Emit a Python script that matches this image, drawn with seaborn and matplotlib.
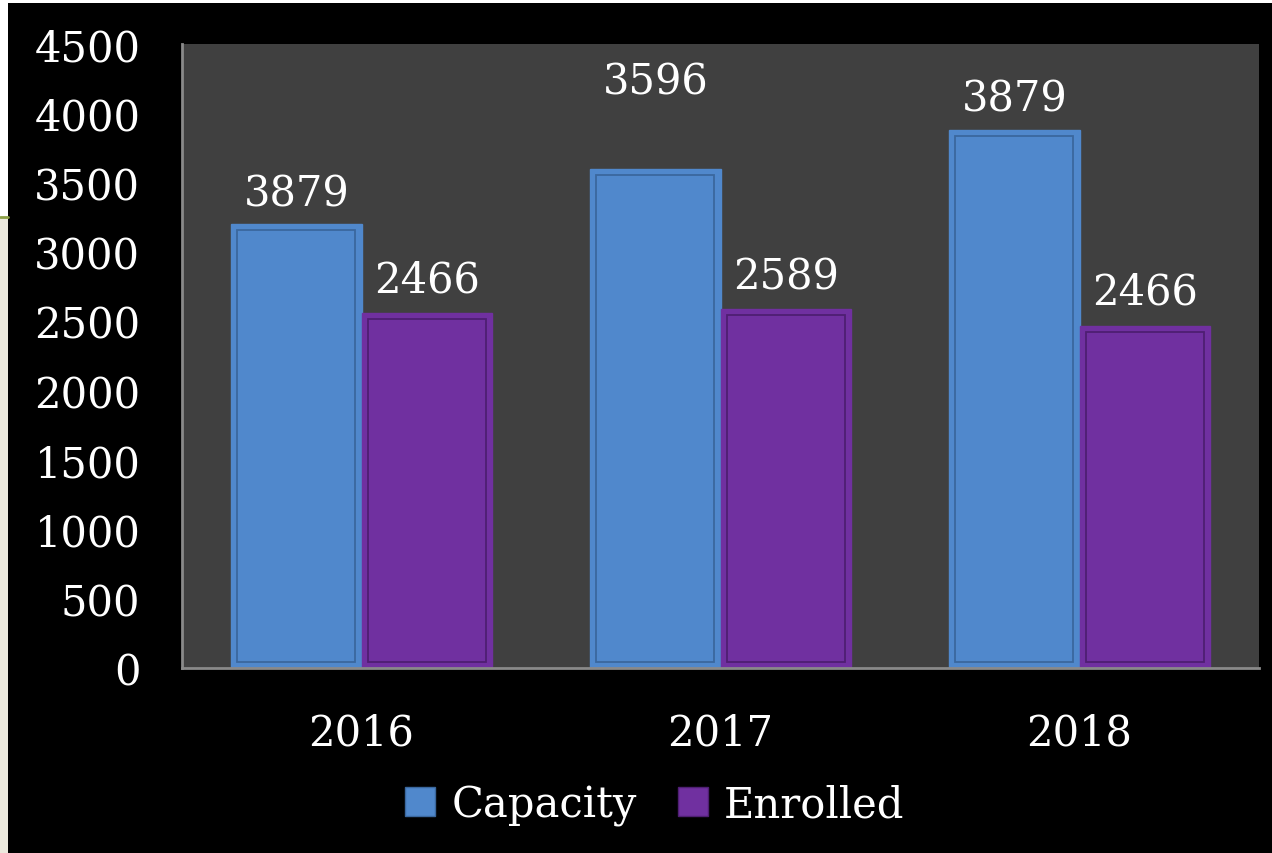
import matplotlib
matplotlib.use("Agg")
import matplotlib.pyplot as plt
from matplotlib.patches import Rectangle
from matplotlib.lines import Line2D
import pandas as pd
import seaborn as sns

# chart data
years = ["2016", "2017", "2018"]
capacity = [3200, 3596, 3879]
enrolled = [2560, 2589, 2466]
# the printed labels do not match the bar heights for 2016 (kept as on the slide)
capacity_labels = ["3879", "3596", "3879"]
enrolled_labels = ["2466", "2589", "2466"]
series = ["Capacity", "Enrolled"]

colors = {"Capacity": "#5088CC", "Enrolled": "#7030A0"}
inner_edges = {"Capacity": "#3A679E", "Enrolled": "#4E1F72"}
label_offsets = {"Capacity": [225, 637, 225], "Enrolled": [240, 233, 248]}

df = pd.DataFrame({
    "year": years * 2,
    "value": capacity + enrolled,
    "series": ["Capacity"] * 3 + ["Enrolled"] * 3,
})

sns.set_theme(style="white")
plt.rcParams["font.family"] = ["DejaVu Serif"]
fs = 30

fig = plt.figure(figsize=(12.72, 8.54), dpi=100, facecolor="black")
ax = fig.add_axes([182 / 1272, 1 - 669 / 854, (1259 - 182) / 1272, (669 - 45) / 854])
ax.set_facecolor("#404040")

sns.barplot(data=df, x="year", y="value", hue="series", hue_order=series,
            palette=colors, width=0.725, saturation=1, ax=ax, legend=False)

# inner bevel outline + value labels
ppx = 1076 / 3.0
ppy = 624 / 4500.0
labels = {"Capacity": capacity_labels, "Enrolled": enrolled_labels}
vals = {"Capacity": capacity, "Enrolled": enrolled}
for cont, name in zip(ax.containers, series):
    for i, bar in enumerate(cont):
        bar.set_edgecolor(colors[name])
        bar.set_linewidth(1.0)
        x0, w, h = bar.get_x(), bar.get_width(), bar.get_height()
        dx, dy = 6 / ppx, 6 / ppy
        ax.add_patch(Rectangle((x0 + dx, dy), w - 2 * dx, h - 2 * dy,
                               fill=False, edgecolor=inner_edges[name], lw=1.3, zorder=3))
        ax.text(x0 + w / 2, vals[name][i] + label_offsets[name][i], labels[name][i],
                ha="center", va="center", color="white", fontsize=fs)

ax.set_xlim(-0.5, 2.5)
ax.set_ylim(0, 4500)
ax.set_yticks(range(0, 4501, 500))
ax.set_xlabel("")
ax.set_ylabel("")
ax.tick_params(axis="y", length=0, pad=30, labelsize=fs, labelcolor="white")
ax.tick_params(axis="x", length=0, pad=31, labelsize=fs, labelcolor="white")
for side in ["top", "right"]:
    ax.spines[side].set_visible(False)
for side in ["left", "bottom"]:
    ax.spines[side].set_color("#8a8a8a")
    ax.spines[side].set_linewidth(2)

handles = [Rectangle((0, 0), 1, 1, facecolor=colors[s], edgecolor=inner_edges[s], lw=1) for s in series]
leg = fig.legend(handles, series, loc="center", bbox_to_anchor=(0.515, 0.057), ncol=2,
                 frameon=False, fontsize=fs, handlelength=0.7, handleheight=0.7,
                 handletextpad=0.4, columnspacing=1.0)
for t in leg.get_texts():
    t.set_color("white")

# slide edge visible at the left and top
fig.patches.append(Rectangle((0, 0), 8 / 1272, 1 - 218 / 854, transform=fig.transFigure,
                             facecolor="#ECE9DD", edgecolor="none", zorder=-1))
fig.patches.append(Rectangle((0, 1 - 218 / 854), 8 / 1272, 218 / 854, transform=fig.transFigure,
                             facecolor="white", edgecolor="none", zorder=-1))
fig.patches.append(Rectangle((0, 1 - 4 / 854), 1, 4 / 854, transform=fig.transFigure,
                             facecolor="white", edgecolor="none", zorder=-1))
fig.lines.append(Line2D([0, 8 / 1272], [1 - 218 / 854] * 2, transform=fig.transFigure,
                        color="#8CA046", lw=2))

fig.savefig("out.png", dpi=100, facecolor="black")
